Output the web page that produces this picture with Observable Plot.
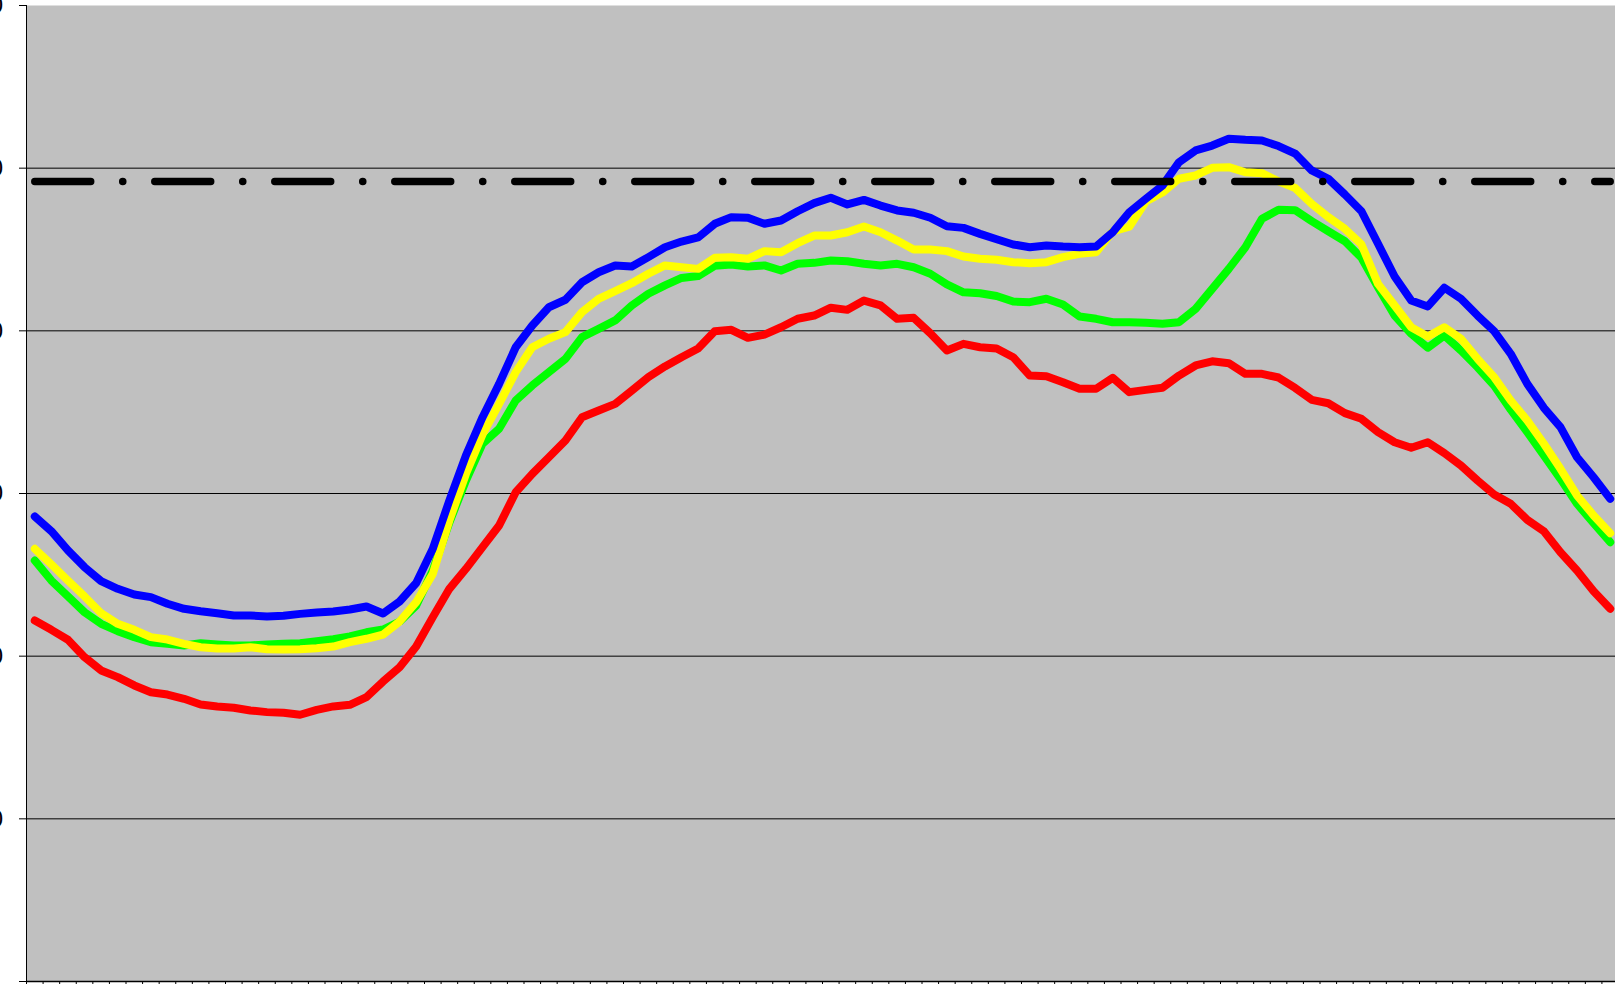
<!DOCTYPE html>
<html>
<head>
<meta charset="utf-8">
<script src="https://cdn.jsdelivr.net/npm/d3@7"></script>
<script src="https://cdn.jsdelivr.net/npm/@observablehq/plot@0.6"></script>
<style>
  html, body { margin: 0; padding: 0; background: #fff; overflow: hidden; width: 1615px; height: 984px; }
  #chart { width: 1660px; }
</style>
</head>
<body>
<div id="chart"></div>
<script>
// Y-axis tick values (labels are cut off at the left edge in the reference)
const yTicks = [0, 10, 20, 30, 40, 50, 60];
const yLabels = ["", "10", "20", "30", "40", "50", "60"];
const gridValues = [10, 20, 30, 40, 50];
// 96 quarter-hour slots across the day
const slotCount = 96;
const slotTicks = d3.range(0, slotCount + 1);

const blue = [28.59,27.68,26.50,25.47,24.61,24.14,23.79,23.63,23.22,22.91,22.76,22.64,22.50,22.50,22.44,22.48,22.60,22.68,22.75,22.87,23.05,22.62,23.36,24.50,26.60,29.57,32.34,34.69,36.74,38.99,40.33,41.45,41.91,42.99,43.60,44.02,43.95,44.53,45.14,45.49,45.74,46.58,46.99,46.95,46.58,46.78,47.35,47.85,48.18,47.77,48.05,47.70,47.40,47.26,46.95,46.43,46.33,45.96,45.63,45.31,45.14,45.25,45.18,45.14,45.18,46.06,47.29,48.12,48.93,50.37,51.09,51.39,51.81,51.74,51.70,51.36,50.90,49.86,49.35,48.38,47.35,45.35,43.34,41.86,41.50,42.65,41.97,40.94,39.98,38.59,36.74,35.27,34.08,32.23,31.00,29.67];
const yellow = [26.60,25.64,24.65,23.67,22.64,21.99,21.62,21.17,21.02,20.76,20.55,20.47,20.47,20.55,20.43,20.41,20.43,20.49,20.59,20.86,21.07,21.33,22.13,23.32,25.06,28.34,31.21,33.63,35.51,37.46,38.99,39.51,39.92,41.15,41.97,42.44,42.93,43.51,44.02,43.91,43.81,44.49,44.53,44.43,44.90,44.83,45.39,45.86,45.86,46.06,46.41,46.06,45.55,45.00,45.00,44.90,44.57,44.43,44.37,44.22,44.16,44.22,44.53,44.73,44.83,46.11,46.40,47.95,48.50,49.35,49.55,50.02,50.06,49.75,49.69,49.19,48.78,47.81,46.99,46.27,45.31,42.89,41.56,40.22,39.65,40.22,39.51,38.28,37.15,35.72,34.49,33.06,31.52,29.88,28.65,27.56];
const green = [25.88,24.65,23.67,22.70,21.99,21.54,21.17,20.86,20.76,20.66,20.80,20.72,20.66,20.66,20.72,20.76,20.80,20.92,21.04,21.21,21.47,21.64,22.13,23.11,25.27,28.22,30.80,33.06,33.98,35.72,36.64,37.46,38.28,39.61,40.12,40.64,41.56,42.28,42.79,43.25,43.37,44.00,44.08,43.95,44.02,43.71,44.12,44.18,44.32,44.28,44.12,44.02,44.12,43.91,43.51,42.85,42.37,42.31,42.14,41.80,41.76,41.97,41.62,40.88,40.74,40.53,40.53,40.49,40.43,40.53,41.35,42.58,43.81,45.14,46.89,47.44,47.42,46.74,46.12,45.51,44.49,42.68,40.94,39.82,38.96,39.71,38.79,37.76,36.64,35.15,33.77,32.34,30.90,29.37,28.17,27.01];
const red = [22.19,21.62,21.01,19.94,19.12,18.71,18.20,17.78,17.64,17.38,17.03,16.91,16.83,16.66,16.56,16.52,16.40,16.70,16.91,17.01,17.48,18.44,19.32,20.59,22.40,24.14,25.37,26.70,28.03,30.08,31.21,32.23,33.26,34.69,35.10,35.51,36.33,37.15,37.81,38.38,38.91,39.98,40.06,39.57,39.77,40.22,40.74,40.94,41.42,41.29,41.86,41.56,40.74,40.80,39.85,38.79,39.20,38.99,38.91,38.38,37.25,37.21,36.84,36.44,36.44,37.11,36.23,36.37,36.50,37.25,37.87,38.13,38.01,37.36,37.36,37.13,36.49,35.76,35.55,34.94,34.59,33.77,33.15,32.81,33.15,32.48,31.72,30.80,29.94,29.37,28.38,27.68,26.39,25.27,23.99,22.91];
const limitValue = 49.18;
const limit = red.map(() => limitValue);

// drawing order: first drawn is at the bottom
const seriesList = [
  { name: "red", values: red, color: "#ff0000" },
  { name: "green", values: green, color: "#00ff00" },
  { name: "yellow", values: yellow, color: "#ffff00" },
  { name: "blue", values: blue, color: "#0000ff" }
];

const lineMarks = seriesList.map(s =>
  Plot.line(s.values, {
    x: (d, i) => i + 0.5,
    y: d => d,
    stroke: s.color,
    strokeWidth: 8,
    strokeLinejoin: "round",
    strokeLinecap: "round"
  })
);

const chart = Plot.plot({
  width: 1660,
  height: 992,
  marginLeft: 26,
  marginRight: 42,
  marginTop: 5,
  marginBottom: 11,
  x: { type: "linear", domain: [0, slotCount] },
  y: { domain: [0, 60] },
  style: { fontFamily: "'Liberation Sans', Arial, sans-serif", background: "#fff", maxWidth: "none", color: "#000" },
  marks: [
    Plot.frame({ fill: "#c0c0c0", stroke: "none" }),
    Plot.ruleY(gridValues, { stroke: "#000", strokeWidth: 1 }),
    ...lineMarks,
    Plot.line(limit, {
      x: (d, i) => i + 0.5,
      y: d => d,
      stroke: "#000",
      strokeWidth: 7.5,
      strokeDasharray: "55.9,32,0.1,32",
      strokeLinecap: "round"
    }),
    Plot.ruleX([0], { stroke: "#000", strokeWidth: 1 }),
    Plot.ruleY([0], { stroke: "#000", strokeWidth: 1.5 }),
    Plot.axisY({ ticks: yTicks, tickSize: 7, tickPadding: 16.5, fontSize: 24, label: null,
                 tickFormat: (d, i) => yLabels[yTicks.indexOf(d)] }),
    Plot.axisX({ ticks: slotTicks, tickSize: 5, tickFormat: () => "", label: null })
  ]
});
document.getElementById("chart").appendChild(chart);
</script>
</body>
</html>
